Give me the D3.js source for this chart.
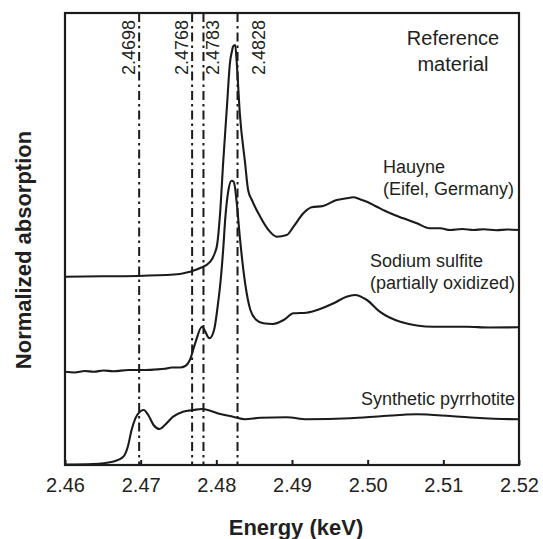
<!DOCTYPE html>
<html>
<head>
<meta charset="utf-8">
<script src="https://cdn.jsdelivr.net/npm/d3@7"></script>
<style>
  body { margin: 0; background: #fff; }
  svg { display: block; }
  text { font-family: "Liberation Sans", Arial, Helvetica, sans-serif; fill: #231f20; }
</style>
</head>
<body>
<svg id="chart" width="543" height="539"></svg>
<script>
// ---- data ----
const energyTicks = [2.46, 2.47, 2.48, 2.49, 2.50, 2.51, 2.52];
const tickLabels = ["2.46", "2.47", "2.48", "2.49", "2.50", "2.51", "2.52"];
const referenceEnergies = [2.4698, 2.4768, 2.4783, 2.4828];
const referenceLabels = ["2.4698", "2.4768", "2.4783", "2.4828"];

// Hauyne (Eifel, Germany), offset spectrum
const hauyneEnergy = [2.4600, 2.4650, 2.4704, 2.4752, 2.4765, 2.4778, 2.4792, 2.4798, 2.4801, 2.4805,
  2.4809, 2.4814, 2.4818, 2.4821, 2.4822, 2.4825, 2.4827, 2.4831, 2.4838, 2.4842,
  2.4847, 2.4858, 2.4869, 2.4880, 2.4893, 2.4902, 2.4915, 2.4926, 2.4941, 2.4959,
  2.4972, 2.4981, 2.4990, 2.4999, 2.5012, 2.5030, 2.5047, 2.5065, 2.5082, 2.5096,
  2.5109, 2.5125, 2.5140, 2.5153, 2.5170, 2.5185, 2.5200];
const hauyneAbs = [1.883, 1.887, 1.893, 1.910, 1.933, 1.967, 2.033, 2.120, 2.200, 2.520,
  3.020, 3.583, 4.020, 4.150, 4.183, 4.200, 4.020, 3.520, 3.020, 2.750,
  2.650, 2.483, 2.350, 2.283, 2.300, 2.383, 2.517, 2.577, 2.590, 2.650,
  2.667, 2.677, 2.657, 2.633, 2.583, 2.517, 2.467, 2.417, 2.367, 2.367,
  2.350, 2.360, 2.350, 2.357, 2.348, 2.355, 2.350];

// Sodium sulfite (partially oxidized), offset spectrum
const sulfiteEnergy = [2.4600, 2.4613, 2.4626, 2.4638, 2.4651, 2.4664, 2.4684, 2.4703, 2.4719, 2.4732,
  2.4741, 2.4752, 2.4759, 2.4765, 2.4772, 2.4781, 2.4791, 2.4797, 2.4802, 2.4806,
  2.4809, 2.4812, 2.4816, 2.4820, 2.4823, 2.4827, 2.4831, 2.4838, 2.4845, 2.4853,
  2.4862, 2.4875, 2.4889, 2.4902, 2.4919, 2.4937, 2.4955, 2.4972, 2.4983, 2.4999,
  2.5016, 2.5043, 2.5087, 2.5131, 2.5160, 2.5200];
const sulfiteAbs = [0.933, 0.925, 0.940, 0.933, 0.945, 0.938, 0.950, 0.950, 0.955, 0.962,
  0.975, 0.975, 0.990, 1.050, 1.217, 1.383, 1.267, 1.350, 1.600, 1.870,
  2.150, 2.483, 2.750, 2.843, 2.833, 2.620, 2.283, 1.820, 1.550, 1.450,
  1.417, 1.410, 1.450, 1.517, 1.523, 1.560, 1.617, 1.683, 1.700, 1.650,
  1.533, 1.433, 1.383, 1.383, 1.375, 1.377];

// Synthetic pyrrhotite
const pyrrhotiteEnergy = [2.4600, 2.4637, 2.4663, 2.4677, 2.4683, 2.4688, 2.4693, 2.4699, 2.4704, 2.4710,
  2.4717, 2.4725, 2.4732, 2.4743, 2.4756, 2.4770, 2.4781, 2.4792, 2.4805, 2.4822,
  2.4838, 2.4858, 2.4893, 2.4919, 2.4977, 2.5021, 2.5065, 2.5109, 2.5153, 2.5200];
const pyrrhotiteAbs = [0.005, 0.010, 0.033, 0.083, 0.183, 0.350, 0.467, 0.533, 0.550, 0.500,
  0.400, 0.360, 0.400, 0.483, 0.533, 0.550, 0.560, 0.543, 0.510, 0.483,
  0.457, 0.473, 0.477, 0.457, 0.467, 0.490, 0.507, 0.490, 0.467, 0.457];

const seriesNames = ["Hauyne", "Sodium sulfite", "Synthetic pyrrhotite"];

// ---- layout ----
const W = 543, H = 539;
const margin = { top: 13, right: 24, bottom: 74, left: 65 };
const svg = d3.select("#chart");
const x = d3.scaleLinear().domain([2.46, 2.52]).range([margin.left, W - margin.right]);
const y = d3.scaleLinear().domain([0, 4.52]).range([H - margin.bottom, margin.top]);
const ink = "#1c1a1b";

// reference energy lines (dash-dot)
svg.append("g").selectAll("line").data(referenceEnergies).join("line")
  .attr("x1", d => x(d)).attr("x2", d => x(d))
  .attr("y1", y.range()[1]).attr("y2", y.range()[0])
  .attr("stroke", ink).attr("stroke-width", 2)
  .attr("stroke-dasharray", "9,4,2.5,4");

// baseline offset of each rotated label from its line (px)
const labelShift = [-4, -4, 16, 27];
svg.append("g").selectAll("text").data(referenceLabels).join("text")
  .attr("transform", (d, i) => `translate(${x(referenceEnergies[i]) + labelShift[i]},20) rotate(-90)`)
  .attr("text-anchor", "end")
  .attr("font-size", 18)
  .text(d => d);

// spectra
const line = d3.line().x(d => x(d[0])).y(d => y(d[1])).curve(d3.curveMonotoneX);
const spectra = [
  d3.zip(hauyneEnergy, hauyneAbs),
  d3.zip(sulfiteEnergy, sulfiteAbs),
  d3.zip(pyrrhotiteEnergy, pyrrhotiteAbs)
];
svg.append("g").selectAll("path").data(spectra).join("path")
  .attr("d", line)
  .attr("fill", "none").attr("stroke", ink)
  .attr("stroke-width", 2.1).attr("stroke-linejoin", "round");

// bottom axis with inward ticks
const xAxis = d3.axisBottom(x).tickValues(energyTicks).tickSizeInner(-5).tickSizeOuter(0)
  .tickFormat((d, i) => tickLabels[i]).tickPadding(13);
const gx = svg.append("g").attr("transform", `translate(0,${y.range()[0]})`).call(xAxis);
gx.select(".domain").remove();
gx.selectAll(".tick line").attr("stroke", ink).attr("stroke-width", 2);
gx.selectAll(".tick text").attr("font-size", 20).attr("font-family", null).attr("fill", "#231f20");

// frame
svg.append("rect")
  .attr("x", x.range()[0]).attr("y", y.range()[1])
  .attr("width", x.range()[1] - x.range()[0]).attr("height", y.range()[0] - y.range()[1])
  .attr("fill", "none").attr("stroke", ink).attr("stroke-width", 2.2);

// axis titles
svg.append("text").attr("x", 296).attr("y", 535)
  .attr("text-anchor", "middle").attr("font-size", 22).attr("font-weight", "bold")
  .text("Energy (keV)");
svg.append("text").attr("transform", "translate(31,250) rotate(-90)")
  .attr("text-anchor", "middle").attr("font-size", 22).attr("font-weight", "bold")
  .text("Normalized absorption");

// panel title
const title = svg.append("text").attr("text-anchor", "middle").attr("font-size", 20);
title.append("tspan").attr("x", 453).attr("y", 45).text("Reference");
title.append("tspan").attr("x", 453).attr("y", 71).text("material");

// series labels
const seriesLabelLines = [["Hauyne", "(Eifel, Germany)"], ["Sodium sulfite", "(partially oxidized)"], ["Synthetic pyrrhotite"]];
const seriesLabelPos = [[383, 173], [370, 267], [361, 405]];
seriesLabelLines.forEach((lines, i) => {
  const t = svg.append("text").attr("font-size", 18).attr("class", "series-label")
    .attr("data-series", seriesNames[i]);
  lines.forEach((s, j) => {
    t.append("tspan").attr("x", seriesLabelPos[i][0]).attr("y", seriesLabelPos[i][1] + j * 22).text(s);
  });
});
</script>
</body>
</html>
